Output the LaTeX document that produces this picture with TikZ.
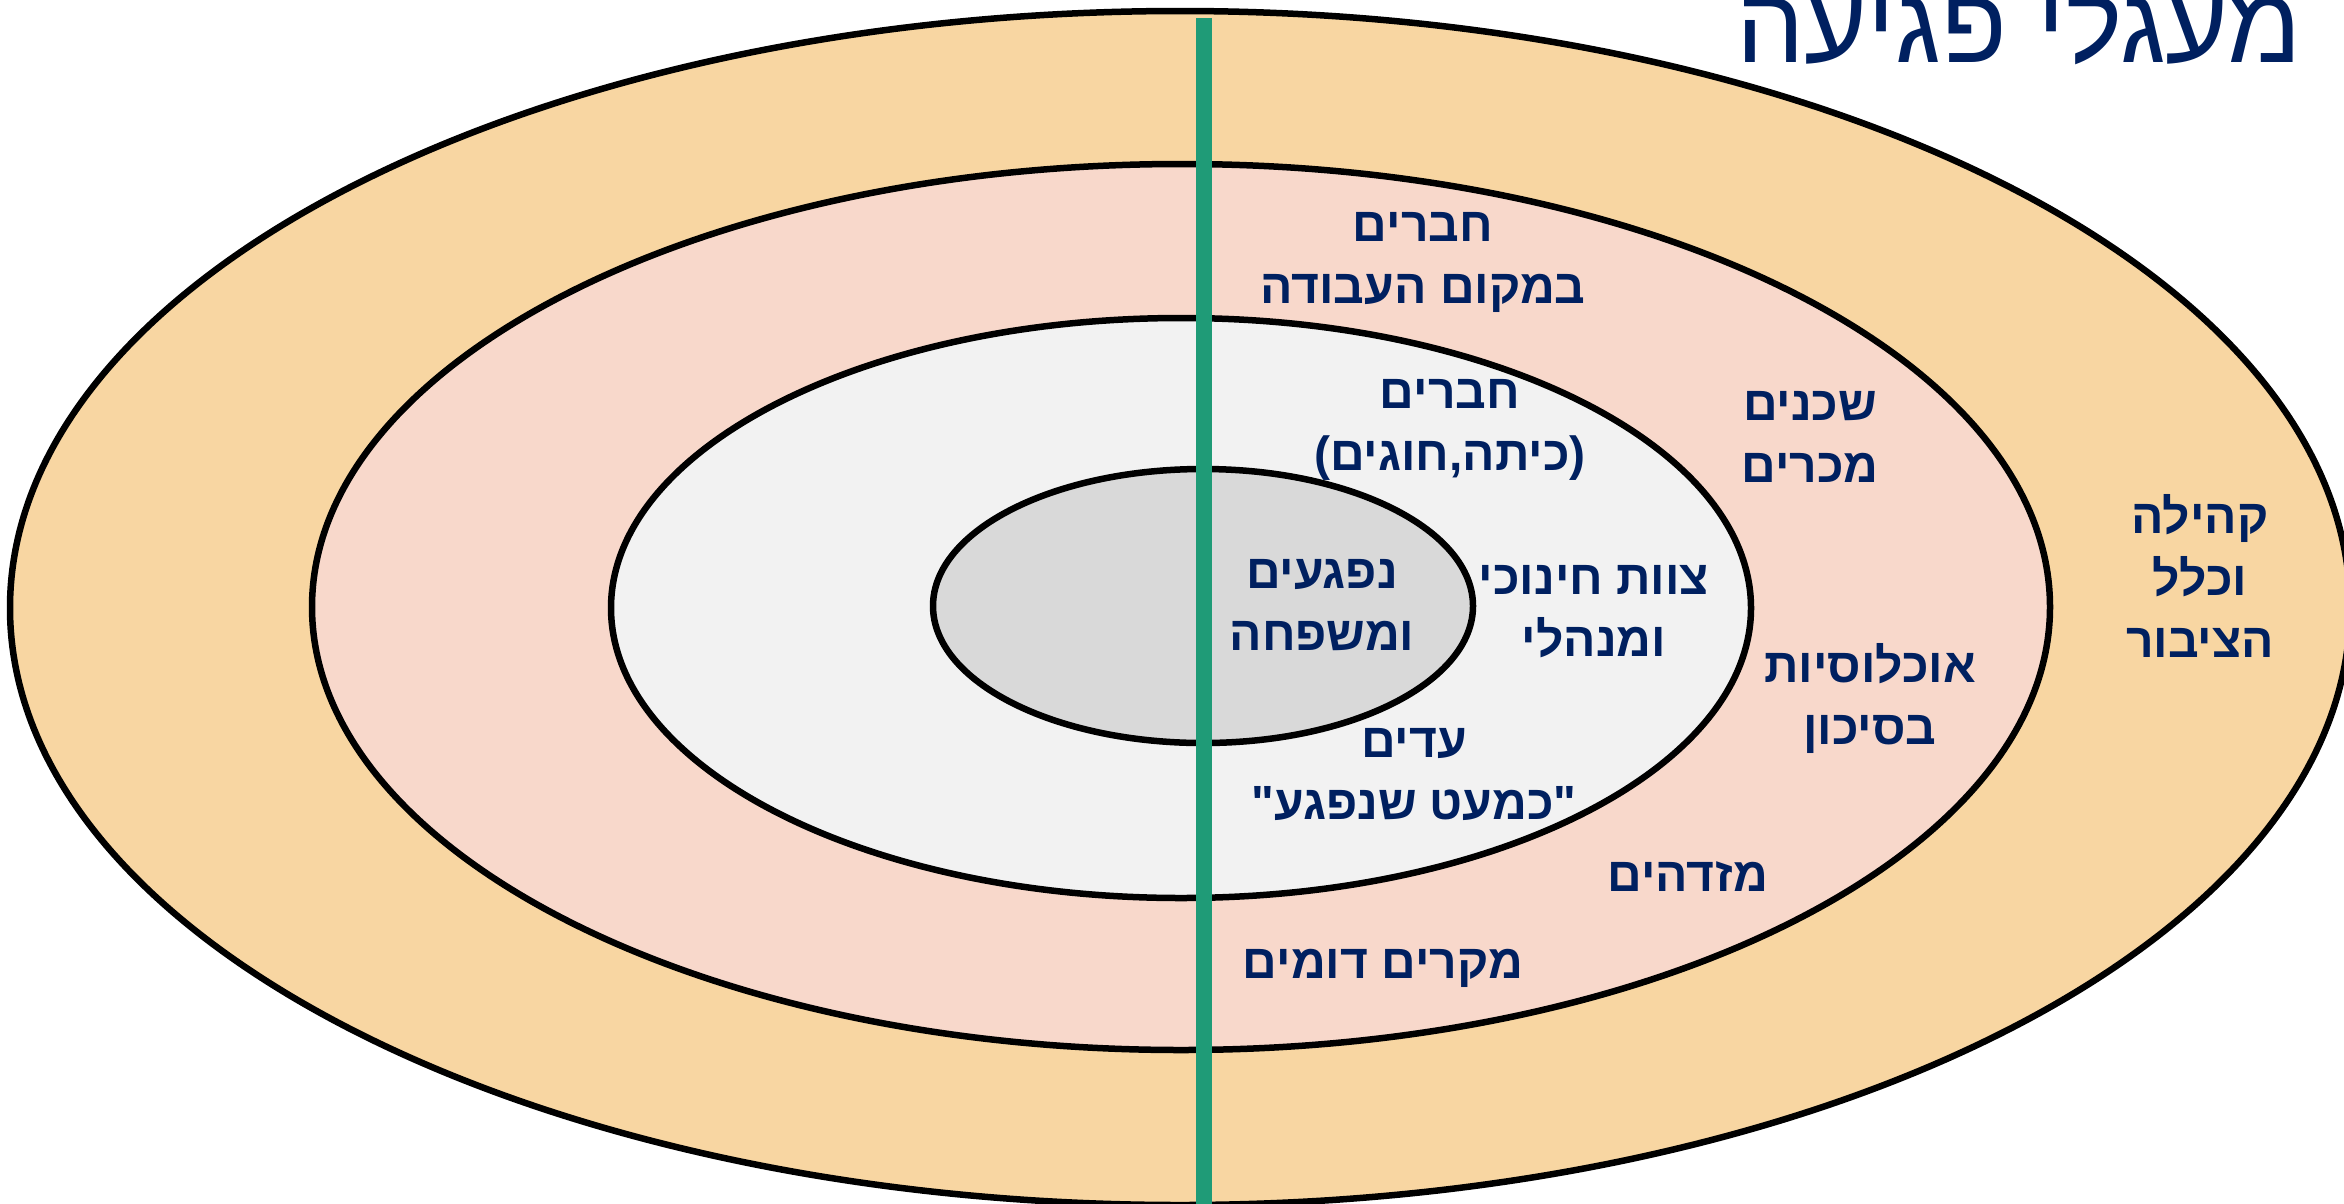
\documentclass[tikz,border=0pt]{standalone}
\usepackage{fontspec}
\setmainfont{Liberation Sans}
\newfontfamily\hebfont[Script=Hebrew]{Liberation Sans}
\TeXXeTstate=1
\definecolor{outerfill}{HTML}{F8D6A2}
\definecolor{midfill}{HTML}{F8D8CB}
\definecolor{innerfill}{HTML}{F2F2F2}
\definecolor{corefill}{HTML}{D9D9D9}
\definecolor{axisgreen}{HTML}{1F9B77}
\definecolor{navy}{HTML}{002060}
\begin{document}
\begin{tikzpicture}[x=1pt,y=-1pt,
  ring/.style={draw=black, line width=6.5pt},
  lbl/.style={font=\hebfont\bfseries\fontsize{48}{62}\selectfont, text=navy, align=center, inner sep=0pt},
  titlestyle/.style={font=\hebfont\fontsize{108}{108}\selectfont, text=navy, inner sep=0pt}]
\clip (0,0) rectangle (2344,1203);
\fill[white] (0,0) rectangle (2344,1203);
% rings
\draw[ring, fill=outerfill] (1180,608) ellipse [x radius=1170, y radius=597];
\draw[ring, fill=midfill] (1181,607) ellipse [x radius=869, y radius=443];
\draw[ring, fill=innerfill] (1181,608) ellipse [x radius=570, y radius=290];
\draw[ring, fill=corefill] (1203,606) ellipse [x radius=270, y radius=137];
% axis
\coordinate (axtop) at (1204,18);
\coordinate (axbot) at (1204,1210);
\draw[axisgreen, line width=16pt] (axtop) -- (axbot);
% title
\node[titlestyle, anchor=base east] (title) at (2302,62) {\beginR מעגלי פגיעה\endR};
% labels
\node[lbl] (work) at (1423,262) {\beginR חברים\endR\\\beginR במקום העבודה\endR};
\node[lbl] (class) at (1450,430) {\beginR חברים\endR\\\beginR (כיתה,חוגים)\endR};
\node[lbl] (neigh) at (1810,437) {\beginR שכנים\endR\\\beginR מכרים\endR};
\node[lbl] (comm) at (2200,576) {\beginR קהילה\endR\\\beginR וכלל\endR\\\beginR הציבור\endR};
\node[lbl] (victims) at (1322,605) {\beginR נפגעים\endR\\\beginR ומשפחה\endR};
\node[lbl] (staff) at (1594,612) {\beginR צוות חינוכי\endR\\\beginR ומנהלי\endR};
\node[lbl] (risk) at (1870,698) {\beginR אוכלוסיות\endR\\\beginR בסיכון\endR};
\node[lbl] (witness) at (1414,774) {\beginR עדים\endR\\\beginR "כמעט שנפגע"\endR};
\node[lbl] (ident) at (1688,877) {\beginR מזדהים\endR};
\node[lbl] (similar) at (1383,968) {\beginR מקרים דומים\endR};
\end{tikzpicture}
\end{document}
